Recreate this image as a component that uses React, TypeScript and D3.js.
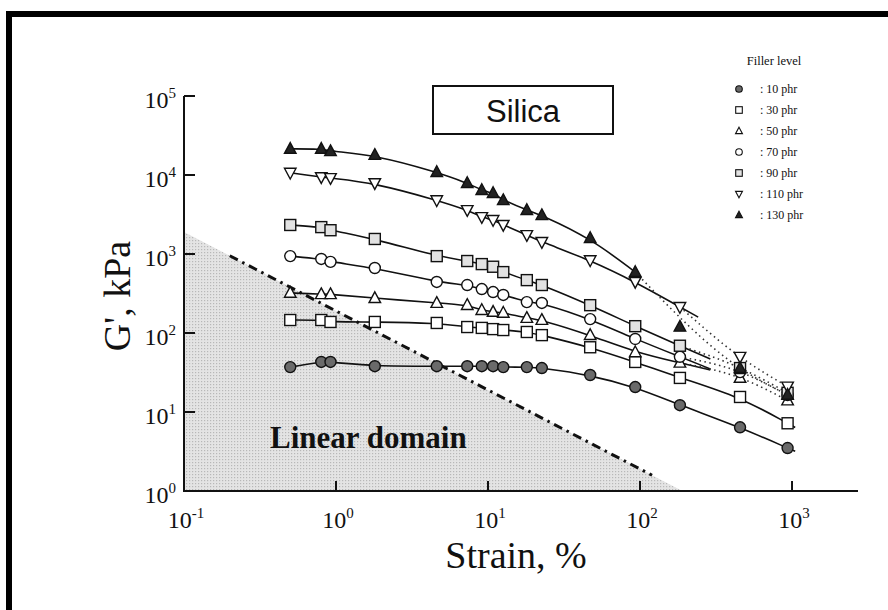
import React from 'react';
import * as d3 from 'd3';

// Strain amplitude (%) of the measurement points
const STRAIN = [0.5, 0.8, 0.92, 1.8, 4.6, 7.3, 9.1, 10.8, 12.6, 18, 22.6, 47, 93, 183, 455, 935];

// G' (kPa) per filler level
const PHR_10 = [37, 43, 43, 38, 38, 38, 38, 38, 37, 37, 36, 29.4, 20.7, 12.2, 6.4, 3.5];
const PHR_30 = [146, 146, 138, 138, 134, 119, 116, 112, 109, 103, 94, 66, 43, 27, 15.5, 7.2];
const PHR_50 = [322, 310, 310, 276, 240, 226, 195, 185, 180, 155, 146, 94, 57, 42, 27, 14];
const PHR_70 = [940, 865, 795, 665, 443, 405, 360, 330, 303, 246, 240, 150, 84, 50, 32, 16.4];
const PHR_90 = [2330, 2190, 2000, 1550, 940, 815, 745, 690, 590, 467, 405, 225, 122, 69, 36, 17.5];
const PHR_110 = [10700, 9400, 9150, 7900, 4800, 3600, 2940, 2700, 2340, 1740, 1420, 835, 444, 214, 50, 21];
const PHR_130 = [21400, 21400, 20000, 17900, 10900, 7900, 6440, 5900, 4800, 3600, 3100, 1590, 590, 120, 36, 16.5];

const LEGEND_LABELS = [': 10 phr', ': 30 phr', ': 50 phr', ': 70 phr', ': 90 phr', ': 110 phr', ': 130 phr'];
const MARKERS = ['circleFilled', 'square', 'triUp', 'circle', 'squareGrey', 'triDown', 'triUpFilled'];
// last index drawn with the solid fitted curve, and the points joined by the dotted tail
const SOLID_END = [15, 15, 13, 13, 13, 13, 12];
const SOLID_EXT = [0.05, 0.05, 0.2, 0.2, 0.2, 0.12, 0];
const DOTTED = [[], [], [13, 14, 15], [13, 14, 15], [13, 14, 15], [13, 14, 15], [12, 14, 15]];

const X_TICK_EXP = [-1, 0, 1, 2, 3];
const Y_TICK_EXP = [0, 1, 2, 3, 4, 5];

// linear-domain boundary: constant stress G'·γ
const LIN_K = 190;

const SERIF = '"Liberation Serif", "Times New Roman", serif';

function Marker({ type, cx, cy, r }: { type: string; cx: number; cy: number; r: number }) {
  const sw = r > 4 ? 1.4 : 1.1;
  switch (type) {
    case 'circleFilled':
      return <circle cx={cx} cy={cy} r={r} fill="#6a6a6a" stroke="#111" strokeWidth={sw} />;
    case 'circle':
      return <circle cx={cx} cy={cy} r={r} fill="#fff" stroke="#111" strokeWidth={sw} />;
    case 'square':
      return <rect x={cx - r} y={cy - r} width={2 * r} height={2 * r} fill="#fff" stroke="#111" strokeWidth={sw} />;
    case 'squareGrey':
      return <rect x={cx - r} y={cy - r} width={2 * r} height={2 * r} fill="#e2e2e2" stroke="#111" strokeWidth={sw} />;
    case 'triUp':
    case 'triUpFilled': {
      const p = `${cx},${cy - r * 1.15} ${cx + r * 1.05},${cy + r * 0.8} ${cx - r * 1.05},${cy + r * 0.8}`;
      return <polygon points={p} fill={type === 'triUp' ? '#fff' : '#222'} stroke="#111" strokeWidth={sw} />;
    }
    case 'triDown': {
      const p = `${cx},${cy + r * 1.15} ${cx + r * 1.05},${cy - r * 0.8} ${cx - r * 1.05},${cy - r * 0.8}`;
      return <polygon points={p} fill="#fff" stroke="#111" strokeWidth={sw} />;
    }
  }
  return null;
}

export default function App() {
  const W = 888;
  const H = 610;
  const x = d3.scaleLog().domain([0.1, Math.pow(10, 3.434)]).range([184, 858]);
  const y = d3.scaleLog().domain([1, 1e5]).range([491, 96]);

  const series = [PHR_10, PHR_30, PHR_50, PHR_70, PHR_90, PHR_110, PHR_130];

  const solidLine = d3
    .line<[number, number]>()
    .x((d) => x(d[0]))
    .y((d) => y(d[1]))
    .curve(d3.curveBasis);
  const dotLine = d3
    .line<[number, number]>()
    .x((d) => x(d[0]))
    .y((d) => y(d[1]))
    .curve(d3.curveMonotoneX);

  const fitPaths = series.map((vals, si) => {
    const pts: [number, number][] = STRAIN.slice(0, SOLID_END[si] + 1).map((s, i) => [s, vals[i]]);
    const ext = SOLID_EXT[si];
    if (ext > 0) {
      const n = pts.length;
      const [x1, y1] = pts[n - 2];
      const [x2, y2] = pts[n - 1];
      const slope = (Math.log10(y2) - Math.log10(y1)) / (Math.log10(x2) - Math.log10(x1));
      pts.push([x2 * Math.pow(10, ext), y2 * Math.pow(10, ext * slope)]);
    }
    const full: [number, number][] = [pts[0], ...pts, pts[pts.length - 1]];
    return solidLine(full) || '';
  });

  const dotPaths = series.map((vals, si) => {
    const idx = DOTTED[si];
    if (!idx.length) return '';
    return dotLine(idx.map((i) => [STRAIN[i], vals[i]] as [number, number])) || '';
  });

  // linear domain shading polygon (constant-stress boundary)
  const shade = [
    [x(0.1), y(LIN_K / 0.1)],
    [x(LIN_K), y(1)],
    [x(0.1), y(1)],
  ];
  const dashStart = 0.2;
  const dashEnd = 120;

  const supLabel = (exp: number) => (
    <>
      10<tspan fontSize={15} dy={-10}>{exp}</tspan>
    </>
  );

  return (
    <svg width={W} height={H} style={{ position: 'absolute', left: 0, top: 0, background: '#fff' }} fontFamily={SERIF}>
      <defs>
        <pattern id="dots" width={3} height={3} patternUnits="userSpaceOnUse">
          <rect width={3} height={3} fill="#e4e4e4" />
          <rect width={1.2} height={1.2} fill="#b8b8b8" />
        </pattern>
      </defs>
      <rect width={W} height={H} fill="#fff" />
      {/* frame */}
      <rect x={6} y={11} width={W - 6} height={6} fill="#000" />
      <rect x={6} y={11} width={6} height={H - 11} fill="#000" />

      {/* linear domain */}
      <polygon points={shade.map((p) => p.join(',')).join(' ')} fill="url(#dots)" />
      <line
        x1={x(dashStart)}
        y1={y(LIN_K / dashStart)}
        x2={x(dashEnd)}
        y2={y(LIN_K / dashEnd)}
        stroke="#111"
        strokeWidth={3}
        strokeDasharray="9 5 2.5 5"
      />
      <text x={270} y={448} fontSize={31} fontWeight="bold" fill="#111">
        Linear domain
      </text>

      {/* axes */}
      <line x1={184} y1={96} x2={184} y2={492} stroke="#111" strokeWidth={2} />
      <line x1={183} y1={491} x2={858} y2={491} stroke="#111" strokeWidth={2} />
      {Y_TICK_EXP.map((e) => (
        <g key={'y' + e}>
          <line x1={184} x2={195} y1={y(Math.pow(10, e))} y2={y(Math.pow(10, e))} stroke="#111" strokeWidth={2} />
          <text x={176} y={y(Math.pow(10, e)) + 12} fontSize={24} textAnchor="end" fill="#111">
            {supLabel(e)}
          </text>
        </g>
      ))}
      {X_TICK_EXP.map((e) => (
        <g key={'x' + e}>
          <line x1={x(Math.pow(10, e))} x2={x(Math.pow(10, e))} y1={491} y2={481} stroke="#111" strokeWidth={2} />
          <text x={x(Math.pow(10, e)) + 2} y={528} fontSize={24} textAnchor="middle" fill="#111">
            {supLabel(e)}
          </text>
        </g>
      ))}
      <text x={516} y={568} fontSize={38} textAnchor="middle" fill="#111">
        Strain, %
      </text>
      <text transform="translate(130,296) rotate(-90)" fontSize={38} textAnchor="middle" fill="#111">
        G', kPa
      </text>

      {/* fitted curves */}
      {fitPaths.map((d, i) => (
        <path key={'f' + i} d={d} fill="none" stroke="#111" strokeWidth={1.6} />
      ))}
      {dotPaths.map((d, i) =>
        d ? <path key={'d' + i} d={d} fill="none" stroke="#333" strokeWidth={1.6} strokeDasharray="1.5 3.5" /> : null
      )}

      {/* markers */}
      {series.map((vals, si) =>
        vals.map((v, i) => <Marker key={si + '-' + i} type={MARKERS[si]} cx={x(STRAIN[i])} cy={y(v)} r={5.5} />)
      )}

      {/* Silica box */}
      <rect x={433} y={86} width={180} height={48} fill="#fff" stroke="#111" strokeWidth={2} />
      <text x={523} y={122} fontSize={31} textAnchor="middle" fontFamily='"Liberation Sans", Arial, sans-serif' fill="#111">
        Silica
      </text>

      {/* legend */}
      <text x={774} y={65} fontSize={12.5} textAnchor="middle" fill="#111">
        Filler level
      </text>
      {LEGEND_LABELS.map((lab, i) => (
        <g key={'l' + i}>
          <Marker type={MARKERS[i]} cx={739} cy={89 + i * 21} r={3.3} />
          <text x={760} y={93 + i * 21} fontSize={12} fill="#111">
            {lab}
          </text>
        </g>
      ))}
    </svg>
  );
}
